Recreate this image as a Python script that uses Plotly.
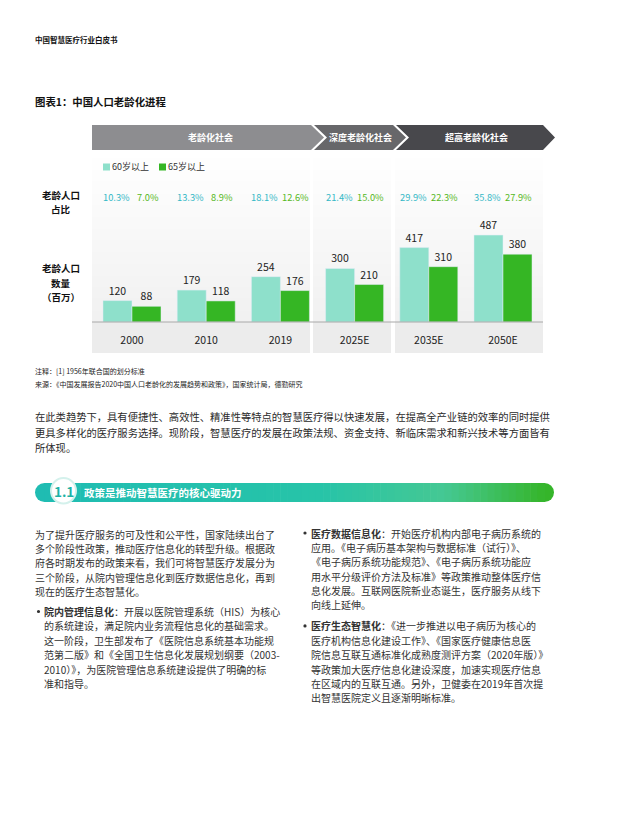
import plotly.graph_objects as go

W, H = 643, 829
OX, OY = 8, 8           # page body margin of the browser
FW, FH = W - OX, H - OY  # figure size that fits in the window
FONT = "Noto Sans CJK SC, Noto Sans, sans-serif"

# ---------------- data ----------------
years = ["2000", "2010", "2019", "2025E", "2035E", "2050E"]
pop60 = [120, 179, 254, 300, 417, 487]
pop65 = [88, 118, 176, 210, 310, 380]
pct60 = ["10.3%", "13.3%", "18.1%", "21.4%", "29.9%", "35.8%"]
pct65 = ["7.0%", "8.9%", "12.6%", "15.0%", "22.3%", "27.9%"]
stages = ["老龄化社会", "深度老龄化社会", "超高老龄化社会"]
series_names = ["60岁以上", "65岁以上"]

C60 = "#8ee0cb"
C65 = "#35b624"
P60 = "#33b8c6"
P65 = "#55b823"


def px(x):
    return (x - OX) / FW


def py(y):
    return 1 - (y - OY) / FH


fig = go.Figure()
fig.add_trace(go.Bar(x=years, y=pop60, name=series_names[0], marker_color=C60,
                     text=pop60, textposition="outside", cliponaxis=False,
                     textfont=dict(size=10.5, color="#222", family=FONT)))
fig.add_trace(go.Bar(x=years, y=pop65, name=series_names[1], marker_color=C65,
                     text=pop65, textposition="outside", cliponaxis=False,
                     textfont=dict(size=10.5, color="#222", family=FONT)))

shapes = []
ann = []


def txt(x, y, s, size, color, anchor="left", xref="paper", xshift=0):
    if xref == "paper":
        xx = px(x - 2 if anchor == "left" else x)
    else:
        xx = x
    ann.append(dict(x=xx, y=py(y), xref=xref, yref="paper",
                    text=s, showarrow=False, xanchor=anchor, yanchor="middle",
                    xshift=xshift, font=dict(size=size, color=color, family=FONT)))


def rect(x0, y0, x1, y1, color, layer="below"):
    shapes.append(dict(type="rect", xref="paper", yref="paper", x0=px(x0), x1=px(x1),
                       y0=py(y1), y1=py(y0), fillcolor=color, line=dict(width=0), layer=layer))


def dot(cx, cy, r, color):
    shapes.append(dict(type="circle", xref="paper", yref="paper", x0=px(cx - r), x1=px(cx + r),
                       y0=py(cy + r), y1=py(cy - r), fillcolor=color, line=dict(width=0)))


def poly(points, color, layer="below"):
    d = "M " + " L ".join(f"{px(a):.5f},{py(b):.5f}" for a, b in points) + " Z"
    shapes.append(dict(type="path", xref="paper", yref="paper", path=d,
                       fillcolor=color, line=dict(width=0), layer=layer))


def lerp(c1, c2, t):
    a = [int(c1[i:i + 2], 16) for i in (1, 3, 5)]
    b = [int(c2[i:i + 2], 16) for i in (1, 3, 5)]
    return "rgb(%d,%d,%d)" % tuple(round(a[k] + (b[k] - a[k]) * t) for k in range(3))


# ---------------- header / title ----------------
txt(35, 40, "<b>中国智慧医疗行业白皮书</b>", 7.5, "#111")
txt(35, 101, "<b>图表1：中国人口老龄化进程</b>", 10.4, "#111")

# ---------------- panels ----------------
panels = [(92, 310), (313, 391), (395, 543)]
top, base, bot = 158, 322, 353
nb = 14
for (a, b) in panels:
    for i in range(nb):
        y0 = top + (base - top) * i / nb
        y1 = top + (base - top) * (i + 1) / nb + 0.5
        rect(a, y0, b, y1, lerp("#ffffff", "#f1f1f1", (i + 1) / nb))
    rect(a, base, b, bot, "#ececec")
shapes.append(dict(type="line", xref="paper", yref="paper", x0=px(92), x1=px(543),
                   y0=py(322), y1=py(322), line=dict(color="#a8a8a8", width=1), layer="above"))

# ---------------- banner ----------------
yt, yb, ym = 125, 150, 137.5
poly([(92, yt), (311, yt), (324, ym), (311, yb), (92, yb)], "#8d8d90")
poly([(314, yt), (393, yt), (406, ym), (393, yb), (314, yb), (327, ym)], "#67676a")
poly([(396, yt), (543, yt), (555, ym), (543, yb), (396, yb), (409, ym)], "#48484c")
for s, cx in zip(stages, [210, 360, 476]):
    txt(cx, 138, f"<b>{s}</b>", 9, "#ffffff", anchor="center")

# ---------------- legend ----------------
rect(103, 163.5, 110, 170.5, C60, layer="above")
txt(112, 167, series_names[0], 9, "#333")
rect(159, 163.5, 166, 170.5, C65, layer="above")
txt(168, 167, series_names[1], 9, "#333")

# ---------------- row labels ----------------
txt(61, 195, "<b>老龄人口</b>", 9.5, "#111", anchor="center")
txt(61, 209, "<b>占比</b>", 9.5, "#111", anchor="center")
txt(61, 268, "<b>老龄人口</b>", 9.5, "#111", anchor="center")
txt(61, 283, "<b>数量</b>", 9.5, "#111", anchor="center")
txt(61, 297, "<b>（百万）</b>", 9.5, "#111", anchor="center")

# ---------------- percent labels ----------------
for i, (a, b) in enumerate(zip(pct60, pct65)):
    txt(i, 197, a, 9.3, P60, anchor="center", xref="x", xshift=-15.5)
    txt(i, 197, b, 9.3, P65, anchor="center", xref="x", xshift=15.5)

# ---------------- notes ----------------
txt(35, 371, "注释：[1] 1956年联合国的划分标准", 7, "#222")
txt(35, 384, "来源：《中国发展报告2020中国人口老龄化的发展趋势和政策》，国家统计局，德勤研究", 7, "#222")

# ---------------- paragraph ----------------
para = [
    "在此类趋势下，具有便捷性、高效性、精准性等特点的智慧医疗得以快速发展，在提高全产业链的效率的同时提供",
    "更具多样化的医疗服务选择。现阶段，智慧医疗的发展在政策法规、资金支持、新临床需求和新兴技术等方面皆有",
    "所体现。",
]
for i, s in enumerate(para):
    txt(35, 417 + 15.3 * i, s, 10.3, "#2a2a2a")

# ---------------- section bar ----------------
stops = [(0.0, "#1fbcb2"), (0.55, "#27c4a8"), (0.8, "#45c893"), (1.0, "#35b52a")]


def grad(t):
    for (t0, c0), (t1, c1) in zip(stops[:-1], stops[1:]):
        if t <= t1:
            return lerp(c0, c1, (t - t0) / (t1 - t0))
    return stops[-1][1]


by0, by1 = 483, 502
r = (by1 - by0) / 2
xa, xb = 35 + r, 554 - r
shapes.append(dict(type="circle", xref="paper", yref="paper", x0=px(35), x1=px(35 + 2 * r),
                   y0=py(by1), y1=py(by0), fillcolor=grad(0), line=dict(width=0), layer="above"))
shapes.append(dict(type="circle", xref="paper", yref="paper", x0=px(554 - 2 * r), x1=px(554),
                   y0=py(by1), y1=py(by0), fillcolor=grad(1), line=dict(width=0), layer="above"))
N = 70
for i in range(N):
    x0 = xa + (xb - xa) * i / N
    x1 = xa + (xb - xa) * (i + 1) / N + 0.6
    rect(x0, by0, min(x1, xb + 0.5), by1, grad((i + 0.5) / N), layer="above")
shapes.append(dict(type="circle", xref="paper", yref="paper", x0=px(51), x1=px(76),
                   y0=py(503.5), y1=py(478), fillcolor="#ffffff",
                   line=dict(color="#d4f1ec", width=2), layer="above"))
txt(63.5, 491, "<b>1.1</b>", 13.5, "#1db3a6", anchor="center")
txt(84, 492.5, "<b>政策是推动智慧医疗的核心驱动力</b>", 10.5, "#ffffff")

# ---------------- body columns ----------------
left = [
    "为了提升医疗服务的可及性和公平性，国家陆续出台了",
    "多个阶段性政策，推动医疗信息化的转型升级。根据政",
    "府各时期发布的政策来看，我们可将智慧医疗发展分为",
    "三个阶段，从院内管理信息化到医疗数据信息化，再到",
    "现在的医疗生态智慧化。",
]
left_b = [
    "<b>院内管理信息化</b>：开展以医院管理系统（HIS）为核心",
    "的系统建设，满足院内业务流程信息化的基础需求。",
    "这一阶段，卫生部发布了《医院信息系统基本功能规",
    "范第二版》和《全国卫生信息化发展规划纲要（2003-",
    "2010）》，为医院管理信息系统建设提供了明确的标",
    "准和指导。",
]
LS = 14.4
y = 534
for s in left:
    txt(35, y, s, 10, "#333")
    y += LS
y += 5.5
dot(38.5, y, 1.6, "#333")
for s in left_b:
    txt(43.5, y, s, 10, "#333")
    y += LS

right_a = [
    "<b>医疗数据信息化</b>：开始医疗机构内部电子病历系统的",
    "应用。《电子病历基本架构与数据标准（试行）》、",
    "《电子病历系统功能规范》、《电子病历系统功能应",
    "用水平分级评价方法及标准》等政策推动整体医疗信",
    "息化发展。互联网医院新业态诞生，医疗服务从线下",
    "向线上延伸。",
]
right_b = [
    "<b>医疗生态智慧化</b>：《进一步推进以电子病历为核心的",
    "医疗机构信息化建设工作》、《国家医疗健康信息医",
    "院信息互联互通标准化成熟度测评方案（2020年版）》",
    "等政策加大医疗信息化建设深度，加速实现医疗信息",
    "在区域内的互联互通。另外，卫健委在2019年首次提",
    "出智慧医院定义且逐渐明晰标准。",
]
y = 533
for blk in (right_a, right_b):
    dot(305, y, 1.6, "#333")
    for s in blk:
        txt(311, y, s, 10, "#333")
        y += LS
    y += 6.5

# page edge line
shapes.append(dict(type="line", xref="paper", yref="paper", x0=px(640), x1=px(640),
                   y0=0, y1=1, line=dict(color="#dddddd", width=1)))

fig.update_layout(
    width=FW, height=FH, margin=dict(l=0, r=0, t=0, b=0),
    paper_bgcolor="white", plot_bgcolor="rgba(0,0,0,0)",
    barmode="group", bargap=0.218, bargroupgap=0, showlegend=False,
    shapes=shapes, annotations=ann,
    font=dict(family=FONT),
    xaxis=dict(type="category", domain=[px(94.9), px(540.1)], range=[-0.5, 5.5],
               showgrid=False, zeroline=False, showline=False, ticks="",
               ticklabelstandoff=10,
               tickfont=dict(size=10.5, color="#222", family=FONT), fixedrange=True),
    yaxis=dict(domain=[py(322), py(206)], range=[0, 650], visible=False, fixedrange=True),
)

fig.write_html("out.html")
